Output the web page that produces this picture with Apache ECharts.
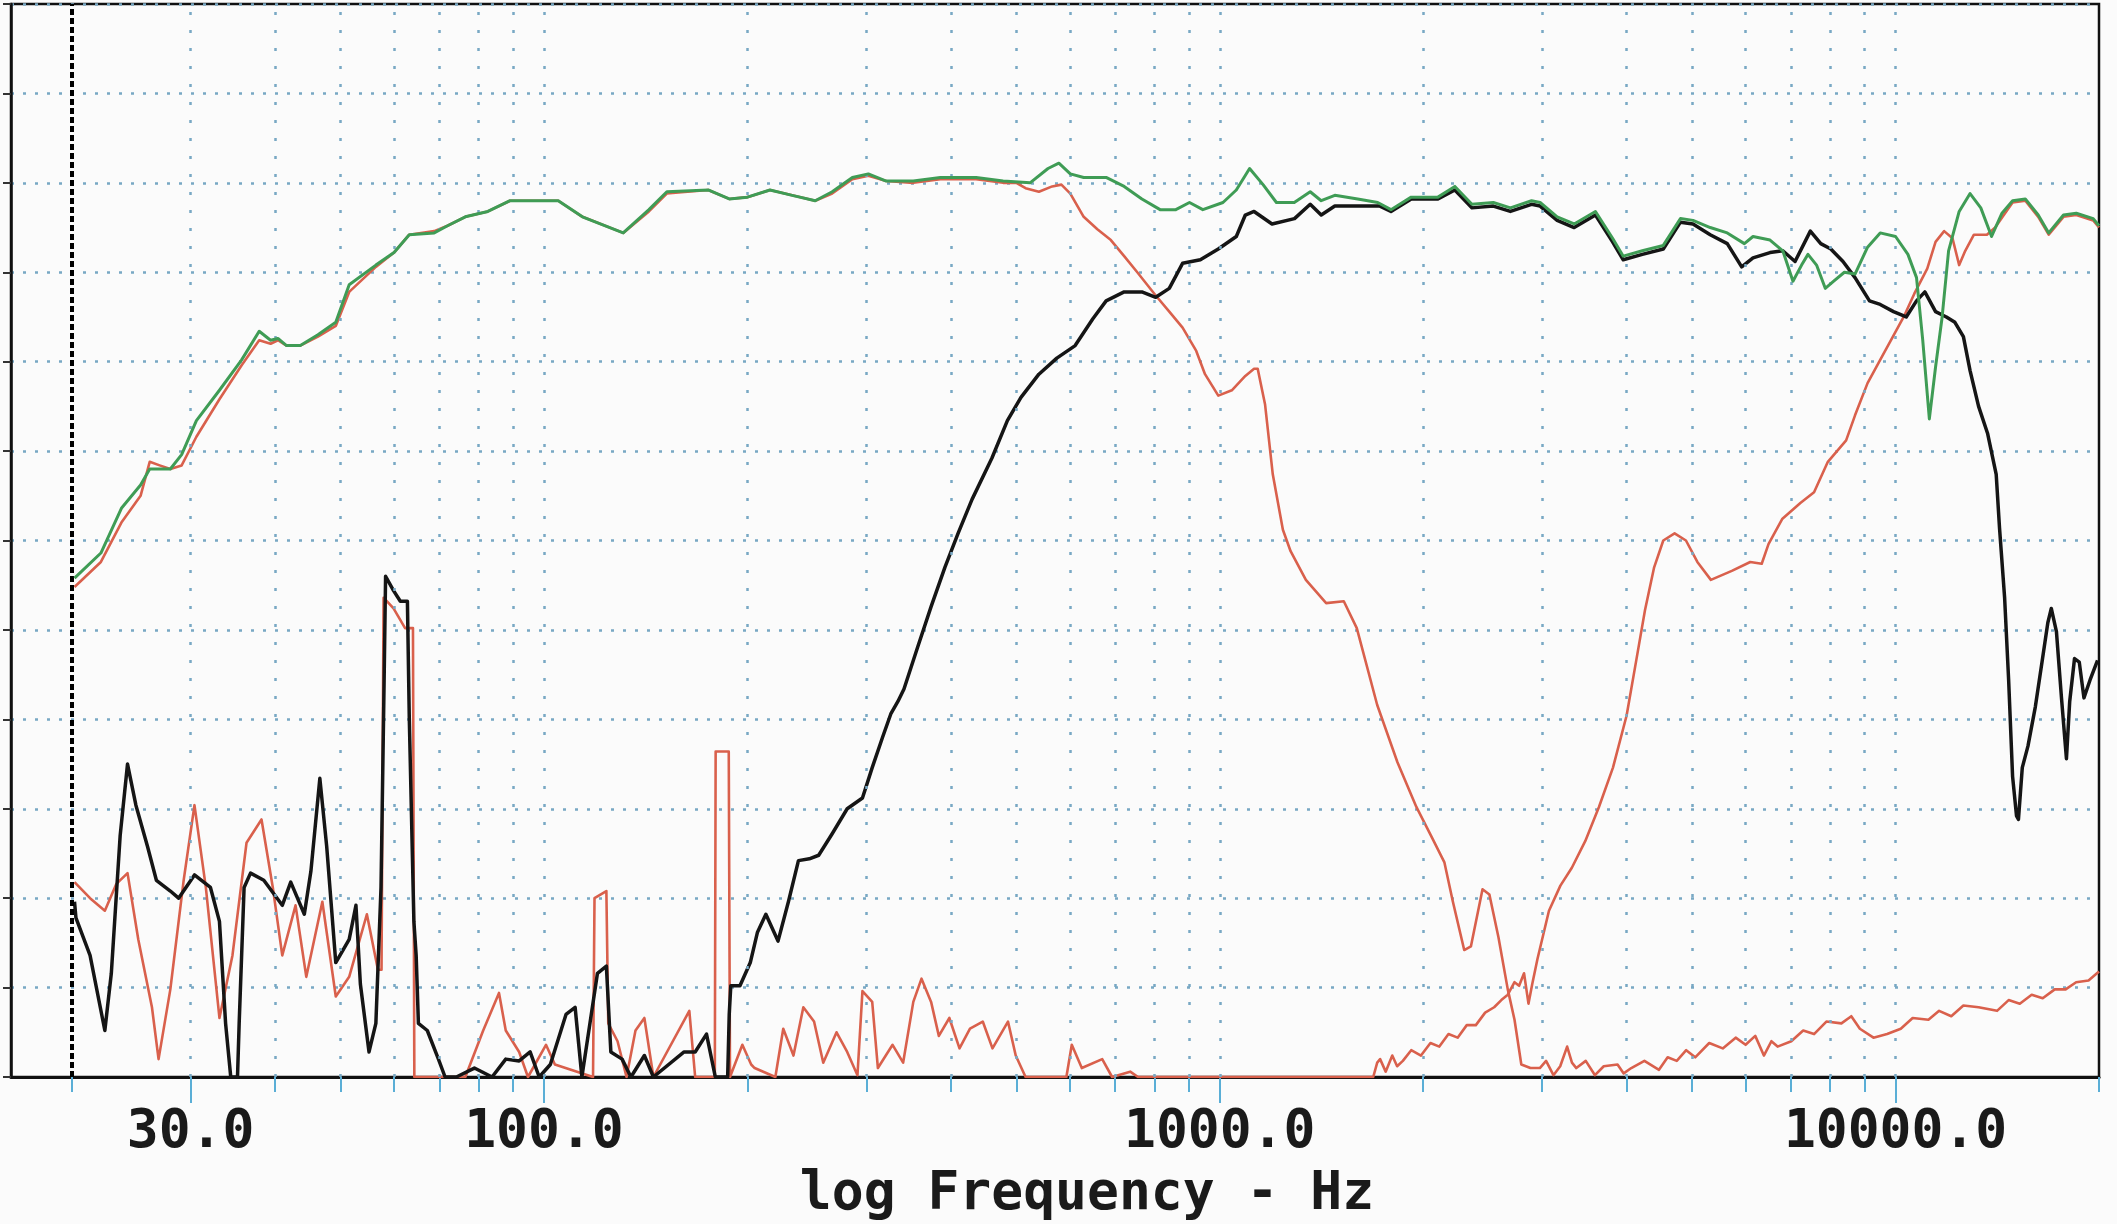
<!DOCTYPE html>
<html><head><meta charset="utf-8">
<script src="https://cdn.jsdelivr.net/npm/echarts@6/dist/echarts.min.js"></script>
<style>html,body{margin:0;padding:0;background:#fbfbfb}#c{width:2117px;height:1224px}</style>
</head><body><div id="c"></div>
<script>
// ---- tick / grid frequencies (Hz) ----
const gridFreqs = [30,40,50,60,70,80,90,100,200,300,400,500,600,700,800,900,1000,2000,3000,4000,5000,6000,7000,8000,9000,10000];
const tickFreqs = [20,30,40,50,60,70,80,90,100,200,300,400,500,600,700,800,900,1000,2000,3000,4000,5000,6000,7000,8000,9000,10000,20000];
const labelFreqs = [30,100,1000,10000];
const refLineFreq = 20;

// ---- curves: [frequency Hz, level dB] ----
const totalResponse = [[20.2,67.9],[22.1,69.3],[23.7,71.8],[25.3,73.1],[26.1,74.0],[28.0,74.0],[29.1,74.8],[30.6,76.7],[33.1,78.4],[35.7,80.1],[37.9,81.7],[39.4,81.2],[40.4,81.3],[41.6,80.9],[43.6,80.9],[46.3,81.5],[49.2,82.2],[51.5,84.3],[56.4,85.4],[60,86.1],[63.2,87.1],[68.8,87.2],[72,87.6],[76.5,88.1],[82.6,88.4],[89.1,89.0],[105,89.0],[114,88.1],[131,87.2],[143,88.5],[152,89.5],[175,89.6],[188,89.1],[200,89.2],[216,89.6],[233,89.3],[252,89.0],[267,89.5],[286,90.3],[302,90.5],[321,90.1],[352,90.1],[386,90.3],[436,90.3],[478,90.1],[524,90.0],[557,90.8],[578,91.1],[601,90.5],[629,90.3],[679,90.3],[722,89.8],[767,89.1],[816,88.5],[861,88.5],[902,88.9],[944,88.5],[1011,88.9],[1058,89.6],[1107,90.8],[1159,89.9],[1213,88.9],[1289,88.9],[1361,89.5],[1413,89.0],[1480,89.3],[1600,89.1],[1713,88.9],[1792,88.5],[1920,89.2],[2103,89.2],[2228,89.8],[2361,88.8],[2540,88.9],[2692,88.6],[2893,89.0],[2979,88.9],[3157,88.1],[3345,87.7],[3597,88.4],[3813,86.9],[3954,85.9],[4220,86.2],[4532,86.5],[4805,88.0],[5015,87.9],[5318,87.5],[5636,87.2],[5974,86.6],[6153,87.0],[6520,86.8],[6810,86.2],[7050,84.5],[7260,85.4],[7420,86.0],[7640,85.4],[7870,84.1],[8100,84.5],[8400,85.0],[8710,84.9],[9090,86.4],[9490,87.2],[10000,87.0],[10430,86.0],[10740,84.7],[10970,81.2],[11220,76.8],[11460,79.7],[11720,82.5],[11980,86.2],[12420,88.4],[12890,89.4],[13370,88.6],[13870,87.0],[14370,88.3],[14900,89.0],[15560,89.1],[16260,88.2],[16850,87.2],[17720,88.2],[18510,88.3],[19610,88.0],[20000,87.6]];

const wooferResponse = [[20.2,67.4],[22.1,68.8],[23.7,71.0],[25.3,72.5],[26.1,74.4],[27.0,74.2],[28.0,74.0],[29.1,74.2],[30.6,75.8],[33.1,77.9],[35.7,79.8],[37.9,81.2],[39.4,81.0],[40.4,81.2],[41.6,80.9],[43.6,80.9],[46.3,81.4],[49.2,82.0],[51.5,83.9],[56.4,85.3],[60,86.1],[63.2,87.1],[68.8,87.3],[72,87.6],[76.5,88.1],[82.6,88.4],[89.1,89.0],[105,89.0],[114,88.1],[131,87.2],[143,88.4],[152,89.4],[175,89.6],[188,89.1],[200,89.2],[216,89.6],[233,89.3],[252,89.0],[267,89.4],[286,90.2],[302,90.4],[321,90.1],[352,90.0],[386,90.2],[436,90.2],[478,90.0],[500,90.0],[516,89.7],[540,89.5],[565,89.8],[583,89.9],[601,89.4],[629,88.1],[659,87.4],[690,86.8],[722,85.9],[755,85.0],[804,83.7],[842,82.8],[881,81.9],[923,80.6],[951,79.3],[995,78.1],[1042,78.4],[1091,79.2],[1124,79.6],[1138,79.6],[1167,77.6],[1198,73.7],[1240,70.6],[1273,69.4],[1341,67.8],[1437,66.5],[1526,66.6],[1595,65.1],[1710,60.8],[1832,57.6],[1954,55.1],[2060,53.4],[2150,52.0],[2213,49.8],[2300,47.1],[2353,47.3],[2448,50.5],[2506,50.2],[2585,47.8],[2668,44.9],[2730,43.2],[2794,40.7],[2882,40.5],[2976,40.5],[3040,40.9],[3117,40.1],[3190,40.6],[3266,41.7],[3320,40.8],[3370,40.5],[3480,40.9],[3591,40.1],[3700,40.6],[3878,40.7],[3960,40.2],[4064,40.5],[4250,40.9],[4466,40.4],[4600,41.1],[4745,40.9],[4900,41.5],[5053,41.1],[5300,41.9],[5550,41.6],[5800,42.2],[5999,41.8],[6200,42.3],[6385,41.2],[6550,42.0],[6690,41.7],[7010,42.0],[7300,42.6],[7575,42.4],[7900,43.1],[8315,43.0],[8600,43.4],[8855,42.7],[9275,42.2],[9716,42.4],[10180,42.7],[10600,43.3],[11185,43.2],[11600,43.7],[12090,43.4],[12600,44.0],[13270,43.9],[14130,43.7],[14700,44.3],[15270,44.1],[15900,44.6],[16510,44.4],[17200,44.9],[17850,44.9],[18500,45.3],[19300,45.4],[20000,45.9]];

const midResponse = [[20.2,49.8],[20.3,48.9],[21.3,46.8],[22.4,42.6],[22.9,45.8],[23.6,53.5],[24.2,57.5],[24.9,55.2],[25.9,52.9],[26.7,51.0],[28.0,50.4],[28.8,50.0],[30.4,51.3],[32.1,50.6],[33.1,48.7],[33.8,43.0],[34.4,40],[35.2,40],[35.4,43.0],[36.0,50.6],[36.8,51.4],[38.5,51.0],[41.0,49.6],[42.2,50.9],[44.2,49.1],[45.2,51.5],[46.6,56.7],[47.7,52.9],[49.2,46.4],[51.5,47.7],[52.7,49.6],[53.5,45.2],[55.1,41.4],[56.4,43.0],[57.4,50.6],[58.0,62.0],[58.3,68.0],[59.9,67.2],[61.3,66.6],[62.8,66.6],[63.2,60.1],[64.2,48.7],[64.7,46.8],[65.2,43.0],[67.2,42.6],[69.8,41.0],[71.4,40],[74.2,40],[78.9,40.5],[83.8,40],[87.8,41.0],[91.9,40.9],[95.4,41.4],[98.4,40],[102.2,40.7],[107.8,43.5],[111.2,43.9],[113.8,40],[120.0,45.8],[123.7,46.2],[125.6,41.4],[130.5,41.0],[134.5,40],[140.8,41.2],[145.2,40],[161.2,41.4],[167.4,41.4],[174,42.4],[179.3,40],[187,40],[188,43.5],[189,45.1],[195,45.1],[202,46.4],[207,48.1],[213,49.1],[222,47.6],[230,49.8],[238,52.1],[247,52.2],[255,52.4],[267,53.6],[281,55.0],[296,55.6],[306,57.3],[317,59.0],[326,60.3],[334,61.0],[341,61.7],[357,64.0],[374,66.3],[392,68.5],[410,70.4],[430,72.3],[460,74.6],[485,76.7],[508,78.0],[540,79.3],[574,80.2],[611,80.9],[649,82.4],[679,83.4],[722,83.9],[767,83.9],[804,83.6],[842,84.1],[881,85.5],[936,85.7],[995,86.3],[1058,87.0],[1091,88.2],[1124,88.4],[1195,87.7],[1290,88.0],[1361,88.8],[1413,88.2],[1480,88.7],[1600,88.7],[1726,88.7],[1792,88.4],[1920,89.1],[2103,89.1],[2228,89.6],[2361,88.6],[2540,88.7],[2692,88.4],[2893,88.8],[2979,88.7],[3157,87.9],[3345,87.5],[3597,88.2],[3813,86.7],[3954,85.7],[4220,86.0],[4532,86.3],[4805,87.8],[5015,87.7],[5318,87.1],[5636,86.6],[5920,85.3],[6153,85.8],[6520,86.1],[6810,86.2],[7100,85.6],[7480,87.3],[7750,86.6],[8020,86.3],[8360,85.6],[8710,84.7],[9150,83.4],[9490,83.2],[9930,82.8],[10370,82.5],[10740,83.4],[11050,83.9],[11460,82.8],[11890,82.5],[12240,82.2],[12600,81.4],[12890,79.5],[13270,77.5],[13680,76.0],[14090,73.7],[14250,70.7],[14500,66.8],[14700,62.2],[14900,56.8],[15100,54.6],[15200,54.4],[15400,57.3],[15700,58.5],[16100,60.7],[16500,63.4],[16800,65.4],[17000,66.2],[17300,64.9],[17600,61.2],[17900,57.8],[18100,61.0],[18400,63.4],[18700,63.2],[19000,61.2],[19400,62.2],[19900,63.3]];

const tweeterResponse = [[20.2,50.9],[21.3,50.0],[22.4,49.3],[23.3,50.8],[24.2,51.4],[25.1,47.7],[26.3,43.9],[26.9,41.0],[28.0,44.9],[29.3,51.0],[30.4,55.2],[31.6,50.6],[33.1,43.3],[34.6,46.8],[36.3,53.1],[38.2,54.4],[39.7,50.6],[41.0,46.8],[42.9,49.6],[44.5,45.6],[47.0,49.8],[49.2,44.5],[51.5,45.6],[54.7,49.1],[56.8,46.0],[57.5,46.0],[57.9,66.8],[59.9,66.2],[62.3,65.1],[64.0,65.1],[64.3,40],[76.5,40],[81.3,42.6],[85.8,44.7],[87.8,42.6],[91.9,41.4],[94.7,40],[100.7,41.8],[103.8,40.7],[118.2,40],[118.8,50.0],[123.7,50.4],[124.5,43.0],[128.5,42.0],[132.5,40],[136.6,42.6],[140.8,43.3],[145.2,40],[164.1,43.7],[167.4,40],[179,40],[179.5,58.2],[187.7,58.2],[188.5,40],[196.6,41.8],[202.6,40.7],[205,40.5],[220,40],[226,42.7],[234,41.2],[242,43.9],[251,43.1],[259,40.8],[271,42.5],[281,41.4],[291,40.1],[296,44.8],[306,44.2],[312,40.5],[328,41.8],[340,40.8],[352,44.2],[362,45.5],[374,44.2],[384,42.3],[398,43.3],[412,41.6],[427,42.7],[446,43.1],[461,41.6],[486,43.1],[499,41.2],[516,40],[593,40],[604,41.8],[625,40.5],[670,41.0],[693,40],[737,40.3],[757,40],[1687,40],[1710,40.8],[1727,41.0],[1760,40.3],[1800,41.2],[1830,40.6],[1866,40.9],[1920,41.5],[1985,41.2],[2050,41.9],[2113,41.7],[2180,42.4],[2249,42.2],[2320,42.9],[2393,42.9],[2470,43.6],[2547,43.9],[2610,44.3],[2668,44.6],[2730,45.3],[2773,45.1],[2820,45.8],[2863,44.1],[2900,45.2],[2952,46.6],[3070,49.3],[3192,50.7],[3319,51.7],[3475,53.2],[3640,55.1],[3818,57.3],[3999,60.2],[4129,63.2],[4258,66.1],[4393,68.5],[4532,70.0],[4710,70.4],[4896,70.0],[5090,68.8],[5330,67.8],[5724,68.3],[6095,68.8],[6338,68.7],[6486,69.8],[6795,71.2],[7230,72.1],[7575,72.7],[7940,74.4],[8450,75.6],[8710,77.0],[9090,78.8],[9490,80.1],[9910,81.4],[10280,82.5],[10660,83.8],[11140,85.2],[11460,86.7],[11800,87.3],[12140,86.9],[12420,85.4],[12680,86.2],[13060,87.1],[13650,87.1],[14040,87.5],[14460,88.2],[14900,88.9],[15560,89.0],[16260,88.1],[16850,87.1],[17720,88.1],[18510,88.2],[19610,87.9],[20000,87.5]];

const chart = echarts.init(document.getElementById('c'), null, {renderer: 'canvas'});
const mono = "'DejaVu Sans Mono', 'Liberation Mono', monospace";
const gridBlue = '#78a8c4';
const tickBlue = '#5aaed6';

const markData = gridFreqs.map(f => ({xAxis: f}));
markData.push({xAxis: refLineFreq, lineStyle: {color: '#000', width: 4, type: [6, 3]}});

function lineSeries(name, data, color, width, z) {
  return {
    name, type: 'line', data, showSymbol: false, symbol: 'none', smooth: false,
    lineStyle: {color, width, join: 'round'}, z, xAxisIndex: 0, yAxisIndex: 0
  };
}

chart.setOption({
  animation: false,
  backgroundColor: '#fbfbfb',
  grid: {left: 11, right: 18, top: 4, bottom: 147, show: true, borderColor: '#111', borderWidth: 2.5, backgroundColor: 'transparent'},
  xAxis: [{
    type: 'log', logBase: 10, min: 16.27, max: 20000, position: 'bottom',
    axisLine: {show: true, onZero: false, lineStyle: {color: '#111', width: 3}},
    axisTick: {show: true, customValues: tickFreqs, length: 15, lineStyle: {color: tickBlue, width: 2}},
    axisLabel: {show: true, customValues: labelFreqs, formatter: v => Number(v).toFixed(1),
      fontFamily: mono, fontWeight: 'bold', fontSize: 53, color: '#1a1a1a', margin: 30},
    splitLine: {show: false}, minorTick: {show: false}, minorSplitLine: {show: false}
  }, {
    type: 'log', logBase: 10, min: 16.27, max: 20000, position: 'bottom',
    axisLine: {show: false, onZero: false},
    axisTick: {show: true, customValues: labelFreqs, length: 26, lineStyle: {color: tickBlue, width: 2}},
    axisLabel: {show: false}, splitLine: {show: false}
  }],
  yAxis: {
    type: 'value', min: 40, max: 100, interval: 5,
    axisLine: {show: true, lineStyle: {color: '#111', width: 2.5}},
    axisTick: {show: true, length: 8, lineStyle: {color: '#333', width: 2}},
    axisLabel: {show: false},
    splitLine: {show: true, lineStyle: {color: gridBlue, width: 2.5, type: [3, 9]}}
  },
  graphic: [{
    type: 'text', x: 1087, y: 1195,
    style: {text: 'log Frequency - Hz', font: 'bold 53px ' + mono, fill: '#1a1a1a',
      align: 'center', verticalAlign: 'middle', textAlign: 'center', textVerticalAlign: 'middle'}
  }],
  series: [
    {
      name: 'grid', type: 'line', data: [[1000, 40]], symbol: 'none', showSymbol: false,
      lineStyle: {opacity: 0}, z: 1, silent: true,
      markLine: {silent: true, symbol: ['none', 'none'], label: {show: false}, animation: false,
        lineStyle: {color: gridBlue, width: 2.5, type: [3, 15]}, data: markData}
    },
    lineSeries('woofer', wooferResponse, '#d9604c', 2.6, 2),
    lineSeries('tweeter', tweeterResponse, '#d9604c', 2.6, 3),
    lineSeries('mid', midResponse, '#151515', 3.5, 4),
    lineSeries('total', totalResponse, '#3f9c55', 3, 5)
  ]
});
</script>
</body></html>
